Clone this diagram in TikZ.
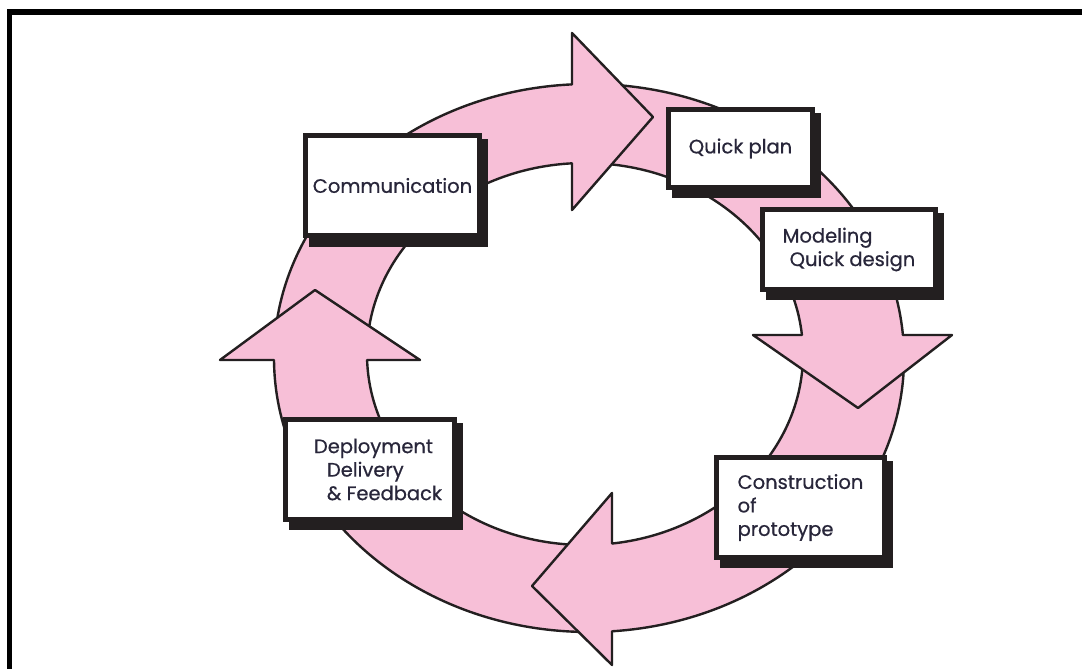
\documentclass[tikz,border=0pt]{standalone}
\usepackage{fontspec}
\setmainfont{Poppins}[FakeBold=0.6]
\definecolor{ringpink}{RGB}{247,191,215}
\definecolor{ink}{RGB}{35,31,32}
\definecolor{textink}{RGB}{40,38,58}
\begin{document}
\begin{tikzpicture}[x=1pt,y=-1pt,
  ringline/.style={draw=ink, line width=2.4pt, line join=round, line cap=round},
  headfill/.style={fill=ringpink},
  procbox/.style={draw=ink, fill=white, line width=5pt, inner sep=0pt, align=left, text=textink, font=\fontsize{19.5}{23.5}\selectfont},
  boxshadow/.style={fill=ink},
  framestyle/.style={draw=black, line width=5.5pt, line join=miter}
]
\useasboundingbox (0,0) rectangle (1082,669);
\fill[white] (0,0) rectangle (1082,669);
\draw[framestyle] (9.5,675) -- (9.5,12) -- (1090,12);

% ring
\fill[ringpink, even odd rule] (589,358) ellipse [x radius=315pt, y radius=274pt]
  (585,354) ellipse [x radius=218pt, y radius=191pt];
\draw[ringline] (589,358) ellipse [x radius=315pt, y radius=274pt];
\draw[ringline] (585,354) ellipse [x radius=218pt, y radius=191pt];

% arrow heads
\fill[headfill] (572,33) -- (653,117) -- (572,210) -- cycle;
\draw[ringline] (572,84.4) -- (572,33) -- (653,117) -- (572,210) -- (572,163.3);

\fill[headfill] (753,335) -- (858,408) -- (952,335) -- cycle;
\draw[ringline] (801.9,335) -- (753,335) -- (858,408) -- (952,335) -- (902.9,335);

\fill[headfill] (612,493) -- (532,586) -- (612,665) -- cycle;
\draw[ringline] (612,543.5) -- (612,493) -- (532,586) -- (612,665) -- (612,631.3);

\fill[headfill] (220,360) -- (315,290) -- (420,360) -- cycle;
\draw[ringline] (274,360) -- (220,360) -- (315,290) -- (420,360) -- (367.1,360);

% boxes
\fill[boxshadow] (309,139) rectangle (488,247);
\node[procbox, minimum width=174pt, minimum height=100pt] (comm) at (392.5,185.5) {Communication};

\fill[boxshadow] (672,113) rectangle (821,198);
\node[procbox, minimum width=144pt, minimum height=78pt] (plan) at (740.5,148.5) {Quick plan};

\fill[boxshadow] (766,213) rectangle (944,300);
\node[procbox, minimum width=173pt, minimum height=80pt] (model) at (849,249.5) {Modeling\\\hspace*{7pt}Quick design};

\fill[boxshadow] (720,461) rectangle (893,568);
\node[procbox, minimum width=168pt, minimum height=100pt] (cons) at (800.5,507.5) {Construction\\of\\prototype};

\fill[boxshadow] (289,423) rectangle (463,530);
\node[procbox, minimum width=169pt, minimum height=100pt] (deploy) at (370,469.5) {\hspace*{16pt}Deployment\\\hspace*{29pt}Delivery\\\hspace*{29pt}\& Feedback};
\end{tikzpicture}
\end{document}
